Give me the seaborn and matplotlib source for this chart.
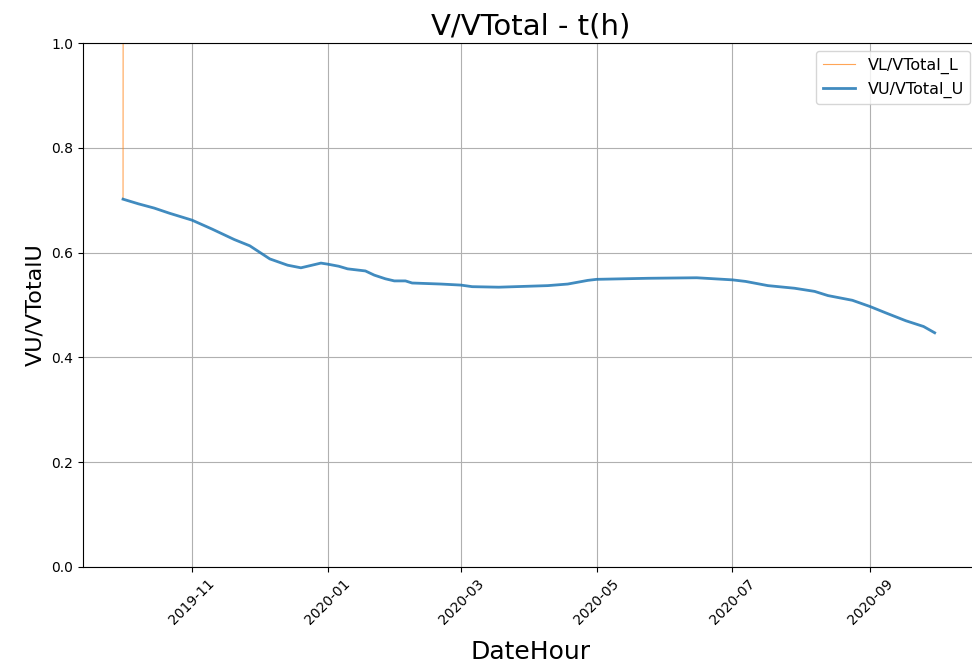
import pandas as pd
import matplotlib
matplotlib.use('Agg')
import matplotlib.pyplot as plt
import matplotlib.dates as mdates
import seaborn as sns

# VU/VTotal_U
dates_u = ['2019-10-01', '2019-10-08', '2019-10-15', '2019-10-22', '2019-11-01',
           '2019-11-10', '2019-11-20', '2019-11-27', '2019-12-06', '2019-12-14',
           '2019-12-20', '2019-12-29', '2020-01-01', '2020-01-06', '2020-01-10',
           '2020-01-18', '2020-01-22', '2020-01-27', '2020-01-31', '2020-02-05',
           '2020-02-08', '2020-02-21', '2020-03-01', '2020-03-06', '2020-03-18',
           '2020-04-09', '2020-04-18', '2020-04-27', '2020-05-01', '2020-05-24',
           '2020-06-15', '2020-06-23', '2020-07-01', '2020-07-07', '2020-07-17',
           '2020-07-29', '2020-08-07', '2020-08-13', '2020-08-24', '2020-09-01',
           '2020-09-08', '2020-09-17', '2020-09-25', '2020-09-30']
vu = [0.702, 0.693, 0.685, 0.675, 0.662,
      0.645, 0.625, 0.613, 0.588, 0.576,
      0.571, 0.580, 0.578, 0.574, 0.569,
      0.565, 0.557, 0.550, 0.546, 0.546,
      0.542, 0.540, 0.538, 0.535, 0.534,
      0.537, 0.540, 0.547, 0.549, 0.551,
      0.552, 0.550, 0.548, 0.545, 0.537,
      0.532, 0.526, 0.518, 0.509, 0.497,
      0.485, 0.470, 0.459, 0.447]

# VL/VTotal_L (only the start is visible, the rest is above the axis)
dates_l = ['2019-10-01 00:00', '2019-10-01 02:00']
vl = [0.702, 1.30]

df_u = pd.DataFrame({'DateHour': pd.to_datetime(dates_u), 'val': vu})
df_l = pd.DataFrame({'DateHour': pd.to_datetime(dates_l), 'val': vl})

fig = plt.figure(figsize=(9.72, 6.68), dpi=100)
# axes run slightly past the right edge of the picture (as in the reference)
ax = fig.add_axes([0.0854, 0.1512, 0.9208, 0.7844])

sns.lineplot(x='DateHour', y='val', data=df_l, ax=ax, color='#ff7f0e',
             linewidth=0.8, alpha=0.7, label='VL/VTotal_L')
sns.lineplot(x='DateHour', y='val', data=df_u, ax=ax, color='#1f77b4',
             linewidth=2, alpha=0.85, label='VU/VTotal_U')

ax.set_ylim(0, 1.0)
ax.set_xlim(pd.Timestamp('2019-09-13'), pd.Timestamp('2020-10-19 12:00'))
ax.xaxis.set_major_locator(mdates.MonthLocator(bymonth=[1, 3, 5, 7, 9, 11]))
ax.xaxis.set_major_formatter(mdates.DateFormatter('%Y-%m'))
plt.xticks(rotation=45)
ax.grid(True)

ax.set_title('V/VTotal - t(h)', fontsize=21)
ax.set_xlabel('DateHour', fontsize=18, labelpad=9)
ax.set_ylabel('VU/VTotalU', fontsize=16)
ax.legend(loc='upper right', fontsize=11.5)

plt.savefig('out.png', dpi=100)
